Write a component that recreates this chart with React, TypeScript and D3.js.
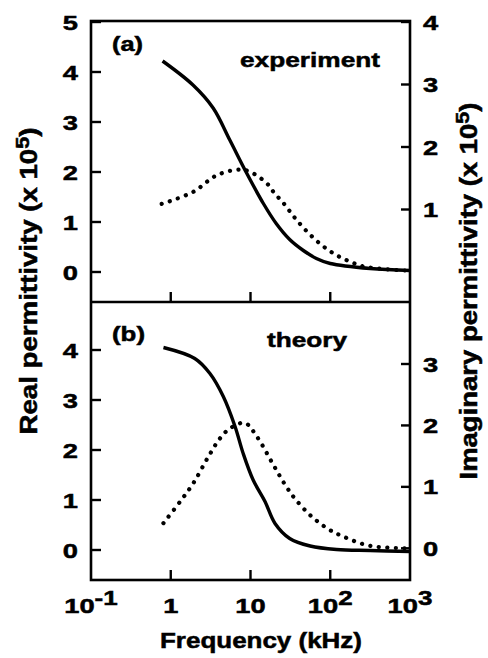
import React from "react";
import * as d3 from "d3";

// (a) experiment
const freqRealA = [0.79, 1.9, 3.4, 5.5, 9, 14.5, 21, 31, 46, 67, 100, 316, 1000];
const realA = [4.22, 3.74, 3.28, 2.64, 1.97, 1.37, 0.97, 0.65, 0.43, 0.27, 0.17, 0.07, 0.03];
const freqImagA = [0.77, 1.9, 3.8, 7.4, 10, 16, 20, 26, 38, 61, 100, 160, 270, 1000];
const imagA = [1.09, 1.28, 1.55, 1.64, 1.6, 1.42, 1.26, 1.1, 0.83, 0.55, 0.33, 0.19, 0.085, 0.02];

// (b) theory
const freqRealB = [0.81, 2.0, 3.1, 4.56, 6.4, 8.1, 10.8, 15.2, 20.3, 31, 56, 120, 316, 1000];
const realB = [4.05, 3.83, 3.53, 3.07, 2.47, 1.93, 1.4, 0.97, 0.53, 0.23, 0.08, 0.01, -0.01, -0.03];
const freqImagB = [0.81, 1.31, 1.92, 2.96, 4.15, 5.5, 8.5, 12, 19.3, 27, 36, 56, 90, 146, 316, 1000];
const imagB = [0.41, 0.76, 1.06, 1.49, 1.79, 1.95, 2.04, 1.82, 1.36, 1.04, 0.81, 0.54, 0.33, 0.19, 0.04, 0.0];

const xTickValues = [0.1, 1, 10, 100, 1000];
const xTickLabels = ["10^-1", "1", "10", "10^2", "10^3"];
const xTickMarks = [1, 10, 100];
const realTicksA = [0, 1, 2, 3, 4, 5];
const imagTicksA = [1, 2, 3, 4];
const realTicksB = [0, 1, 2, 3, 4];
const imagTicksB = [0, 1, 2, 3];

const W = 488;
const H = 658;
const left = 91;
const right = 410;
const top = 21;
const split = 302;
const bottom = 580;
const font = "'Liberation Sans', Arial, Helvetica, sans-serif";

const x = d3.scaleLog().domain([0.1, 1000]).range([left, right]);
const yRealA = d3.scaleLinear().domain([0, 5]).range([272, 22]);
const yImagA = d3.scaleLinear().domain([0, 4]).range([272, 22]);
const yRealB = d3.scaleLinear().domain([0, 4]).range([550, 350]);
const yImagB = d3.scaleLinear().domain([0, 3]).range([548.3, 364]);

const path = (fs: number[], vs: number[], y: d3.ScaleLinear<number, number>) =>
  d3
    .line<number>()
    .x((_, i) => x(fs[i]))
    .y((v) => y(v))
    .curve(d3.curveCatmullRom.alpha(0.5))(vs) as string;

// tick labels in the original are drawn wide, so stretch them a bit
const Num = ({ px, py, anchor, label }: { px: number; py: number; anchor: string; label: string }) => (
  <g transform={`translate(${px},${py}) scale(1.3,1)`}>
    <text textAnchor={anchor} fontSize={21} dy="0.36em">
      {label}
    </text>
  </g>
);

const XLabel = ({ px, label }: { px: number; label: string }) => {
  const [base, sup] = label.split("^");
  return (
    <g transform={`translate(${px},613) scale(1.3,1)`}>
      <text textAnchor="middle" fontSize={21}>
        {base}
        {sup && (
          <tspan dy={-8} fontSize={20}>
            {sup}
          </tspan>
        )}
      </text>
    </g>
  );
};

const Solid = ({ d }: { d: string }) => (
  <path d={d} fill="none" stroke="#000" strokeWidth={3.4} strokeLinejoin="round" />
);
const Dots = ({ d }: { d: string }) => (
  <path d={d} fill="none" stroke="#000" strokeWidth={4.2} strokeLinecap="round" strokeDasharray="0.1 8.4" />
);

export default function App() {
  return (
    <svg
      width={W}
      height={H}
      style={{ position: "absolute", left: 0, top: 0, background: "#fff" }}
      fontFamily={font}
      fontWeight="bold"
    >
      {/* frame */}
      <rect x={left} y={top} width={right - left} height={bottom - top} fill="none" stroke="#000" strokeWidth={2.6} />
      <line x1={left} x2={right} y1={split} y2={split} stroke="#000" strokeWidth={2.6} />

      {/* x ticks, both panels point up */}
      {xTickMarks.map((v) => (
        <g key={v}>
          <line x1={x(v)} x2={x(v)} y1={split} y2={split - 10} stroke="#000" strokeWidth={2.4} />
          <line x1={x(v)} x2={x(v)} y1={bottom} y2={bottom - 10} stroke="#000" strokeWidth={2.4} />
        </g>
      ))}

      <g stroke="#000" strokeWidth={0.5}>
        {xTickValues.map((v, i) => (
          <XLabel key={v} px={x(v)} label={xTickLabels[i]} />
        ))}
        {realTicksA.map((v) => (
          <Num key={"la" + v} px={78} py={yRealA(v)} anchor="end" label={String(v)} />
        ))}
        {realTicksB.map((v) => (
          <Num key={"lb" + v} px={78} py={yRealB(v)} anchor="end" label={String(v)} />
        ))}
        {imagTicksA.map((v) => (
          <Num key={"ma" + v} px={423} py={yImagA(v)} anchor="start" label={String(v)} />
        ))}
        {imagTicksB.map((v) => (
          <Num key={"mb" + v} px={423} py={yImagB(v)} anchor="start" label={String(v)} />
        ))}
      </g>

      {/* axis ticks */}
      {realTicksA.map((v) => (
        <line key={"ra" + v} x1={left} x2={left + 10} y1={yRealA(v)} y2={yRealA(v)} stroke="#000" strokeWidth={2.4} />
      ))}
      {realTicksB.map((v) => (
        <line key={"rb" + v} x1={left} x2={left + 10} y1={yRealB(v)} y2={yRealB(v)} stroke="#000" strokeWidth={2.4} />
      ))}
      {imagTicksA.map((v) => (
        <line key={"ia" + v} x1={right} x2={right - 9} y1={yImagA(v)} y2={yImagA(v)} stroke="#000" strokeWidth={2.4} />
      ))}
      {imagTicksB.map((v) => (
        <line key={"ib" + v} x1={right} x2={right - 9} y1={yImagB(v)} y2={yImagB(v)} stroke="#000" strokeWidth={2.4} />
      ))}

      {/* curves */}
      <Solid d={path(freqRealA, realA, yRealA)} />
      <Dots d={path(freqImagA, imagA, yImagA)} />
      <Solid d={path(freqRealB, realB, yRealB)} />
      <Dots d={path(freqImagB, imagB, yImagB)} />

      <g stroke="#000" strokeWidth={0.5}>
        {/* panel labels */}
        <text x={112} y={51} fontSize={20} textLength={31} lengthAdjust="spacingAndGlyphs">(a)</text>
        <text x={240} y={67} fontSize={21} textLength={140} lengthAdjust="spacingAndGlyphs">experiment</text>
        <text x={112} y={341} fontSize={20} textLength={33} lengthAdjust="spacingAndGlyphs">(b)</text>
        <text x={267} y={347} fontSize={21} textLength={80} lengthAdjust="spacingAndGlyphs">theory</text>

        {/* axis titles */}
        <text x={261} y={648} fontSize={22} textAnchor="middle" textLength={202} lengthAdjust="spacingAndGlyphs">
          Frequency (kHz)
        </text>
        <text
          transform="translate(37,281) rotate(-90)"
          fontSize={23}
          textAnchor="middle"
          textLength={307}
          lengthAdjust="spacingAndGlyphs"
        >
          Real permittivity (x 10<tspan dy={-8} fontSize={18}>5</tspan>
          <tspan dy={8}>)</tspan>
        </text>
        <text
          transform="translate(477,291) rotate(-90)"
          fontSize={23}
          textAnchor="middle"
          textLength={377}
          lengthAdjust="spacingAndGlyphs"
        >
          Imaginary permittivity (x 10<tspan dy={-8} fontSize={18}>5</tspan>
          <tspan dy={8}>)</tspan>
        </text>
      </g>
    </svg>
  );
}
